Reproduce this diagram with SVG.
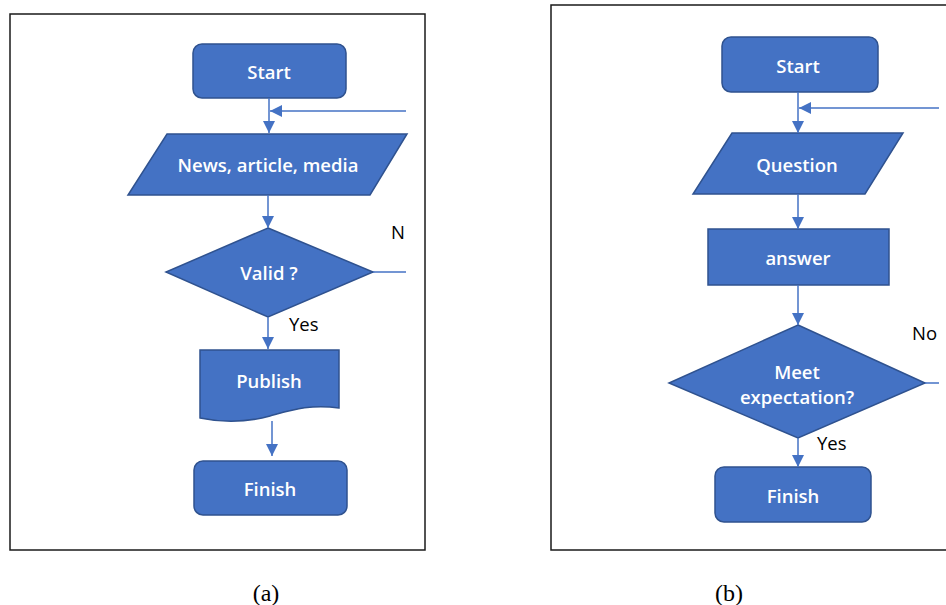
<svg xmlns="http://www.w3.org/2000/svg" width="946" height="605" viewBox="0 0 946 605">
<style>
.frame{fill:none;stroke:#1a1a1a;stroke-width:1.5}
.shape{fill:#4472C4;stroke:#2F528F;stroke-width:1.5}
.lbl{font-family:"Open Sans","Noto Sans",sans-serif;font-size:18.5px;font-weight:600;fill:#ffffff;text-anchor:middle;dominant-baseline:central}
.edge{fill:none;stroke:#4472C4;stroke-width:1.5}
.elbl{font-family:"Open Sans","Noto Sans",sans-serif;font-size:18.5px;font-weight:500;fill:#000000}
.cap{font-family:"Liberation Serif",serif;font-size:24px;fill:#000;text-anchor:middle}
</style>
<defs>
<marker id="arr" viewBox="0 0 10 10" refX="10" refY="5" markerWidth="12" markerHeight="12" markerUnits="userSpaceOnUse" orient="auto">
<path d="M0,0 L10,5 L0,10 Z" fill="#4472C4"/>
</marker>
</defs>
<rect x="0" y="0" width="946" height="605" fill="#ffffff"/>
<rect class="frame" x="10" y="14" width="415" height="536"/>
<path class="frame" d="M947,5 H551 V550 H947"/>

<g id="a-start"><rect class="shape" x="193" y="44" width="153" height="54" rx="9"/><text class="lbl" x="269" y="71">Start</text></g>
<g id="a-input"><polygon class="shape" points="167,134 407,134 370,195 128,195"/><text class="lbl" x="268" y="164">News, article, media</text></g>
<g id="a-valid"><polygon class="shape" points="268,228 373,272 268,317 166,272"/><text class="lbl" x="269" y="272">Valid ?</text></g>
<g id="a-publish"><path class="shape" d="M200,350 H339 V408 C310,404 292,410 270,416 C248,422 224,423 200,418 Z"/><text class="lbl" x="269" y="380">Publish</text></g>
<g id="a-finish"><rect class="shape" x="194" y="461" width="153" height="54" rx="9"/><text class="lbl" x="270" y="488">Finish</text></g>

<g id="b-start"><rect class="shape" x="722" y="37" width="156" height="55" rx="9"/><text class="lbl" x="798" y="65">Start</text></g>
<g id="b-question"><polygon class="shape" points="732,133 903,133 865,194 693,194"/><text class="lbl" x="797" y="164">Question</text></g>
<g id="b-answer"><rect class="shape" x="708" y="229" width="181" height="56"/><text class="lbl" x="798" y="257">answer</text></g>
<g id="b-meet"><polygon class="shape" points="798,325 925,383 798,438 669,383"/><text class="lbl" x="797" y="371">Meet</text><text class="lbl" x="797" y="396">expectation?</text></g>
<g id="b-finish"><rect class="shape" x="715" y="467" width="156" height="55" rx="9"/><text class="lbl" x="793" y="495">Finish</text></g>

<g id="connectors">
<line class="edge" x1="269" y1="98" x2="269" y2="133" marker-end="url(#arr)"/>
<line class="edge" x1="406" y1="111" x2="270" y2="111" marker-end="url(#arr)"/>
<line class="edge" x1="268" y1="195" x2="268" y2="228" marker-end="url(#arr)"/>
<line class="edge" x1="373" y1="272" x2="406" y2="272"/>
<line class="edge" x1="268" y1="317" x2="268" y2="349" marker-end="url(#arr)"/>
<line class="edge" x1="272" y1="421" x2="272" y2="456" marker-end="url(#arr)"/>
<text class="elbl" x="391" y="239">N</text>
<text class="elbl" x="289" y="331">Yes</text>

<line class="edge" x1="798" y1="92" x2="798" y2="133" marker-end="url(#arr)"/>
<line class="edge" x1="939" y1="108" x2="799" y2="108" marker-end="url(#arr)"/>
<line class="edge" x1="798" y1="194" x2="798" y2="229" marker-end="url(#arr)"/>
<line class="edge" x1="798" y1="285" x2="798" y2="325" marker-end="url(#arr)"/>
<line class="edge" x1="925" y1="383" x2="939" y2="383"/>
<line class="edge" x1="798" y1="438" x2="798" y2="467" marker-end="url(#arr)"/>
<text class="elbl" x="912" y="340">No</text>
<text class="elbl" x="817" y="450">Yes</text>
</g>

<text class="cap" x="266" y="601">(a)</text>
<text class="cap" x="729" y="601">(b)</text>
</svg>
